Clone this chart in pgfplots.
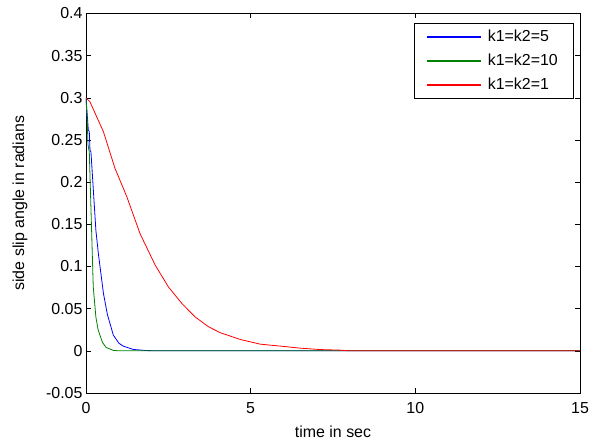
\documentclass[border=0pt]{standalone}
\usepackage{fontspec}
\setmainfont{Liberation Sans}
\usepackage{pgfplots}
\pgfplotsset{compat=1.18}

\definecolor{mblue}{rgb}{0,0,1}
\definecolor{mgreen}{rgb}{0,0.5,0}
\definecolor{mred}{rgb}{1,0,0}

\begin{document}
\begin{tikzpicture}
\begin{axis}[
    scale only axis,
    width=494bp, height=379.5bp,
    xmin=0, xmax=15,
    ymin=-0.05, ymax=0.4,
    xtick={0,5,10,15},
    xticklabels={0,5,10,15},
    ytick={-0.05,0,0.05,0.1,0.15,0.2,0.25,0.3,0.35,0.4},
    yticklabels={-0.05,0,0.05,0.1,0.15,0.2,0.25,0.3,0.35,0.4},
    tick align=inside,
    major tick length=5bp,
    tick style={black, line width=0.5bp},
    axis line style={black, line width=0.8bp},
    every tick label/.append style={font=\fontsize{16}{19}\selectfont},
    xticklabel style={yshift=-6bp},
    label style={font=\fontsize{16}{19}\selectfont},
    xlabel={time in sec},
    ylabel={side slip angle in radians},
    xlabel style={at={(axis description cs:0.5,-0.1028)}, anchor=center},
    ylabel style={at={(axis description cs:-0.1336,0.5)}, anchor=center},
    legend style={at={(rel axis cs:1,1)}, anchor=north east,
        xshift=-7bp, yshift=-9.5bp,
        font=\fontsize{16}{19}\selectfont, row sep=7bp, column sep=5bp,
        inner xsep=13bp, inner ysep=5bp},
    legend cell align=left,
    legend image code/.code={\fill[#1] (0bp,-0.35bp) rectangle (53bp,0.35bp);},
]
\addplot[color=mblue, line width=0.8bp] coordinates {
    (0,0.3) (0.07,0.262) (0.1,0.26) (0.12,0.238) (0.15,0.236)
    (0.3,0.143) (0.375,0.1155) (0.53,0.068) (0.65,0.043) (0.83,0.0186)
    (1.0,0.009) (1.13,0.0056) (1.44,0.0016) (1.84,0.0003) (2.2,0) (15,0)
};
\addlegendentry{k1=k2=5}
\addplot[color=mgreen, line width=0.8bp] coordinates {
    (0,0.3) (0.04,0.27) (0.06,0.245) (0.08,0.24) (0.1,0.236)
    (0.17,0.143) (0.22,0.076) (0.3,0.04) (0.37,0.0246) (0.5,0.01)
    (0.61,0.004) (0.83,0.0005) (1.0,0) (15,0)
};
\addlegendentry{k1=k2=10}
\addplot[color=mred, line width=0.8bp] coordinates {
    (0,0.3) (0.12,0.2953) (0.53,0.2597) (0.88,0.2164) (1.24,0.1827)
    (1.64,0.139) (2.1,0.1017) (2.5,0.0759) (2.91,0.0562) (3.31,0.0403)
    (3.72,0.0285) (4.07,0.0216) (4.68,0.0135) (5.29,0.0079) (5.9,0.0056)
    (6.5,0.0032) (7.11,0.0015) (7.72,0.0008) (8.0,0) (15,0)
};
\addlegendentry{k1=k2=1}
\end{axis}
\pgfresetboundingbox
\path[use as bounding box] ([xshift=-86bp,yshift=-48bp]current axis.south west)
    rectangle ([xshift=18bp,yshift=13.5bp]current axis.north east);
\end{tikzpicture}
\end{document}
